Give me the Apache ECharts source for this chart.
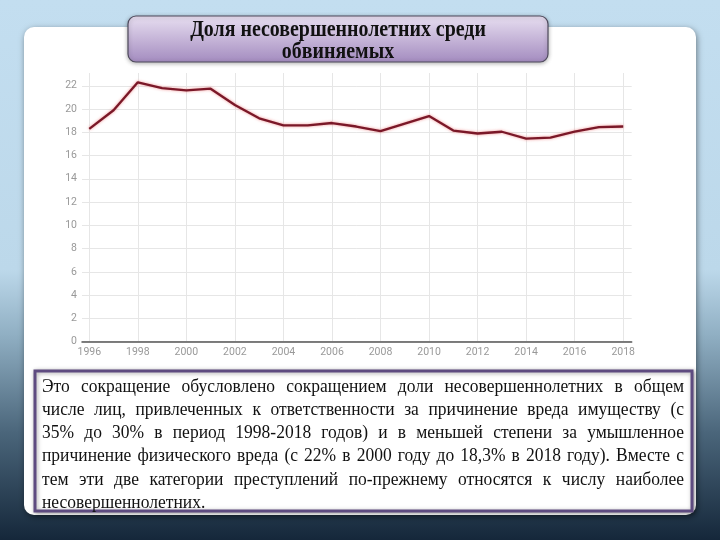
<!DOCTYPE html>
<html><head><meta charset="utf-8">
<script src="https://cdn.jsdelivr.net/npm/echarts@6/dist/echarts.min.js"></script>
<style>html,body{margin:0;padding:0;}#c{width:720px;height:540px;}</style>
</head><body><div id="c"></div>
<script>
const years = [1996,1997,1998,1999,2000,2001,2002,2003,2004,2005,2006,2007,2008,2009,2010,2011,2012,2013,2014,2015,2016,2017,2018];
const share = [18.3,19.9,22.3,21.8,21.6,21.75,20.35,19.2,18.6,18.6,18.8,18.5,18.1,18.75,19.4,18.15,17.9,18.05,17.45,17.55,18.05,18.45,18.5];
const xTicks = [1996,1998,2000,2002,2004,2006,2008,2010,2012,2014,2016,2018];
const yTicks = [0,2,4,6,8,10,12,14,16,18,20,22];
const titleLines = ['Доля несовершеннолетних среди','обвиняемых'];
const bodyLines = [
 'Это сокращение обусловлено сокращением доли несовершеннолетних в общем',
 'числе лиц, привлеченных к ответственности за причинение вреда имуществу (с',
 '35% до 30% в период 1998-2018 годов) и в меньшей степени за умышленное',
 'причинение физического вреда (с 22% в 2000 году до 18,3% в 2018 году). Вместе с',
 'тем эти две категории преступлений по-прежнему относятся к числу наиболее',
 'несовершеннолетних.'
];

const ctx = document.createElement('canvas').getContext('2d');
function w(text, font){ ctx.font = font; return ctx.measureText(text).width; }
const serif = '"Liberation Serif", "Times New Roman", serif';

const tf0 = 20;
const tfs = Math.min(20, tf0 * 296 / w(titleLines[0], 'bold ' + tf0 + 'px ' + serif));
const bf0 = 17;
const L = 42, R = 684;
const bfs = Math.min(17.5, bf0 * (R - L) / w(bodyLines[3], bf0 + 'px ' + serif));
const bodyFont = bfs + 'px ' + serif;

const graphics = [
  {type:'rect', z:-100, silent:true, shape:{x:0,y:0,width:720,height:540},
   style:{fill:new echarts.graphic.LinearGradient(0,0,0,1,[
     {offset:0,color:'#c3def0'},{offset:0.5,color:'#bcd8ea'},{offset:0.62,color:'#90afc3'},
     {offset:0.8,color:'#4b667b'},{offset:1,color:'#15273a'}])}},
  {type:'rect', z:-90, silent:true, shape:{x:24,y:27,width:672,height:488,r:10},
   style:{fill:'#ffffff', shadowColor:'rgba(0,0,0,0.45)', shadowBlur:6, shadowOffsetX:1, shadowOffsetY:2}},
  {type:'rect', z:50, silent:true, shape:{x:128,y:16,width:420,height:46,r:8},
   style:{fill:new echarts.graphic.LinearGradient(0,0,0,1,[{offset:0,color:'#e8dff1'},{offset:1,color:'#a38bbf'}]),
     stroke:'#4e4a5c', lineWidth:1.2, shadowColor:'rgba(0,0,0,0.3)', shadowBlur:4, shadowOffsetY:1}},
  {type:'text', z:51, silent:true, x:338, y:30, scaleY:1.15, style:{text:titleLines[0], font:'bold '+tfs+'px '+serif, fill:'#111', align:'center', verticalAlign:'middle'}},
  {type:'text', z:51, silent:true, x:338, y:52.5, scaleY:1.15, style:{text:titleLines[1], font:'bold '+tfs+'px '+serif, fill:'#111', align:'center', verticalAlign:'middle'}},
  {type:'rect', z:50, silent:true, shape:{x:35,y:371,width:657,height:140},
   style:{fill:'#ffffff', stroke:'#5e4b80', lineWidth:3, shadowColor:'rgba(0,0,0,0.35)', shadowBlur:4, shadowOffsetX:1, shadowOffsetY:1}}
];
bodyLines.forEach((line, i) => {
  const y = 386.7 + i * 23.3;
  const words = line.split(' ');
  if (i < bodyLines.length - 1) {
    const ws = words.map(t => w(t, bodyFont));
    const gap = (R - L - ws.reduce((a,b)=>a+b,0)) / (words.length - 1);
    let x = L;
    words.forEach((t, k) => {
      graphics.push({type:'text', z:51, silent:true, x:x, y:y, scaleY:1.06, style:{text:t, font:bodyFont, fill:'#111', align:'left', verticalAlign:'middle'}});
      x += ws[k] + gap;
    });
  } else {
    graphics.push({type:'text', z:51, silent:true, x:L, y:y, scaleY:1.06, style:{text:line, font:bodyFont, fill:'#111', align:'left', verticalAlign:'middle'}});
  }
});

const chart = echarts.init(document.getElementById('c'), null, {renderer:'canvas'});
chart.setOption({
  animation:false,
  graphic: graphics,
  grid:{left:82, right:88.3, top:73, bottom:198.3, containLabel:false},
  xAxis:{type:'value', min:1995.7, max:2018.35,
    axisLine:{show:true, lineStyle:{color:'#555', width:1.5}},
    axisTick:{show:false, customValues:xTicks},
    axisLabel:{customValues:xTicks, color:'#999', fontFamily:'Roboto', fontSize:10.5, margin:5, formatter:v=>String(v)},
    splitLine:{show:true, lineStyle:{color:'#e6e6e6', width:1}}},
  yAxis:{type:'value', min:0, max:23.1,
    axisLine:{show:false}, axisTick:{show:false, customValues:yTicks},
    axisLabel:{customValues:yTicks, color:'#999', fontFamily:'Roboto', fontSize:10.5, margin:5},
    splitLine:{show:true, lineStyle:{color:'#e6e6e6', width:1}}},
  series:[{type:'line', data:years.map((y,i)=>[y, share[i]]), showSymbol:false, symbol:'none',
    lineStyle:{color:'#7a1828', width:2.3, shadowColor:'rgba(230,70,70,0.6)', shadowBlur:3}}]
});
</script></body></html>
